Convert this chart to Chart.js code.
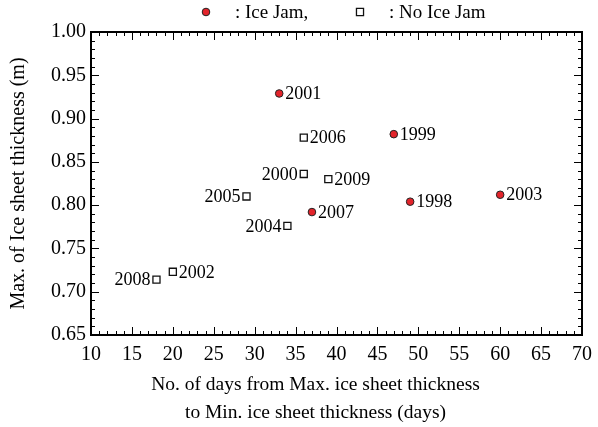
<!DOCTYPE html>
<html>
<head>
<meta charset="utf-8">
<script src="https://cdn.jsdelivr.net/npm/chart.js@4/dist/chart.umd.min.js"></script>
<style>
  html, body { margin: 0; padding: 0; background: #fff; }
  #wrap { width: 598px; height: 427px; }
</style>
</head>
<body>
<div id="wrap"><canvas id="chart"></canvas></div>
<script>
// years with an ice jam
const jamYears = ['2001', '1999', '1998', '2003', '2007'];
const jamDays = [33, 47, 49, 60, 37];
const jamThick = [0.929, 0.882, 0.804, 0.812, 0.792];

// years without an ice jam
const noJamYears = ['2006', '2000', '2009', '2005', '2004', '2008', '2002'];
const noJamDays = [36, 36, 39, 29, 34, 18, 20];
const noJamThick = [0.878, 0.836, 0.830, 0.810, 0.776, 0.714, 0.723];

const xTicks = [10, 15, 20, 25, 30, 35, 40, 45, 50, 55, 60, 65, 70];
const yTicks = [0.65, 0.70, 0.75, 0.80, 0.85, 0.90, 0.95, 1.00];

// labels drawn on the left side of their marker
const leftLabels = ['2000', '2005', '2004', '2008'];

const FONT = "'Liberation Serif', 'Times New Roman', serif";

function toPoints(xs, ys, names) {
    return xs.map((x, i) => ({ x: x, y: ys[i], year: names[i] }));
}

// frame, inward ticks on all four sides, year labels, legend, x title
const decor = {
    id: 'decor',
    afterDraw(chart) {
        const ctx = chart.ctx;
        const a = chart.chartArea;
        const xs = chart.scales.x;
        const ys = chart.scales.y;
        ctx.save();
        ctx.strokeStyle = '#000';
        ctx.lineWidth = 1;
        for (let v = xTicks[0]; v <= xTicks[xTicks.length - 1]; v++) {
            const len = v % 5 === 0 ? 8 : 4;
            const px = Math.round(xs.getPixelForValue(v)) + 0.5;
            ctx.beginPath();
            ctx.moveTo(px, a.bottom); ctx.lineTo(px, a.bottom - len);
            ctx.moveTo(px, a.top); ctx.lineTo(px, a.top + len);
            ctx.stroke();
        }
        for (let i = 0; i <= 35; i++) {
            const v = 0.65 + i * 0.01;
            const len = i % 5 === 0 ? 8 : 4;
            const py = Math.round(ys.getPixelForValue(v)) + 0.5;
            ctx.beginPath();
            ctx.moveTo(a.left, py); ctx.lineTo(a.left + len, py);
            ctx.moveTo(a.right, py); ctx.lineTo(a.right - len, py);
            ctx.stroke();
        }
        ctx.lineWidth = 2;
        ctx.strokeRect(a.left, a.top, a.right - a.left, a.bottom - a.top);

        // year labels next to the markers
        ctx.fillStyle = '#000';
        ctx.font = '18px ' + FONT;
        ctx.textBaseline = 'middle';
        chart.data.datasets.forEach((ds, di) => {
            const meta = chart.getDatasetMeta(di);
            meta.data.forEach((el, i) => {
                const yr = ds.data[i].year;
                if (leftLabels.includes(yr)) {
                    ctx.textAlign = 'right';
                    ctx.fillText(yr, el.x - 6, el.y + 1);
                } else {
                    ctx.textAlign = 'left';
                    ctx.fillText(yr, el.x + 6, el.y + 1);
                }
            });
        });

        // legend above the plot
        const ly = 12;
        const lx = a.left + 115;
        ctx.font = '19px ' + FONT;
        chart.data.datasets.forEach((ds, di) => {
            const mx = lx + di * 154;
            ctx.fillStyle = ds.pointBackgroundColor;
            ctx.strokeStyle = ds.pointBorderColor;
            ctx.lineWidth = ds.pointBorderWidth;
            Chart.helpers.drawPoint(ctx, {
                pointStyle: ds.pointStyle,
                radius: ds.pointRadius,
                borderWidth: ds.pointBorderWidth
            }, mx, ly);
            ctx.fillStyle = '#000';
            ctx.textAlign = 'left';
            ctx.textBaseline = 'middle';
            ctx.fillText(ds.label, mx + 29, ly + 1);
        });

        // x axis title, two lines
        ctx.font = '19.5px ' + FONT;
        ctx.textAlign = 'center';
        ctx.fillStyle = '#000';
        const cx = (a.left + a.right) / 2 - 21;
        ctx.fillText('No. of days from Max. ice sheet thickness', cx, a.bottom + 50);
        ctx.fillText('to Min. ice sheet thickness (days)', cx, a.bottom + 78);
        ctx.restore();
    }
};

new Chart(document.getElementById('chart'), {
    type: 'scatter',
    data: {
        datasets: [{
            label: ': Ice Jam,',
            data: toPoints(jamDays, jamThick, jamYears),
            pointStyle: 'circle',
            pointRadius: 3.8,
            pointBackgroundColor: '#e3242b',
            pointBorderColor: '#222',
            pointBorderWidth: 1
        }, {
            label: ': No Ice Jam',
            data: toPoints(noJamDays, noJamThick, noJamYears),
            pointStyle: 'rect',
            pointRadius: 5,
            pointBackgroundColor: '#fff',
            pointBorderColor: '#111',
            pointBorderWidth: 1.3
        }]
    },
    options: {
        responsive: true,
        maintainAspectRatio: false,
        animation: false,
        layout: { padding: { top: 32, right: 16, bottom: 52, left: 6.5 } },
        plugins: {
            tooltip: { enabled: false },
            legend: { display: false }
        },
        scales: {
            x: {
                type: 'linear',
                min: 10,
                max: 70,
                afterBuildTicks: (s) => { s.ticks = xTicks.map(v => ({ value: v })); },
                afterFit: (s) => { s.paddingRight = 10; },
                grid: { display: false, drawTicks: false },
                border: { display: false },
                ticks: {
                    padding: 8,
                    color: '#000',
                    font: { family: FONT, size: 20 },
                    maxRotation: 0
                }
            },
            y: {
                type: 'linear',
                min: 0.65,
                max: 1.0,
                afterBuildTicks: (s) => { s.ticks = yTicks.map(v => ({ value: v })); },
                grid: { display: false, drawTicks: false },
                border: { display: false },
                ticks: {
                    padding: 5,
                    color: '#000',
                    font: { family: FONT, size: 20 },
                    callback: (v) => Number(v).toFixed(2)
                },
                title: {
                    display: true,
                    text: 'Max. of Ice sheet thickness (m)',
                    color: '#000',
                    padding: { top: 0, bottom: 15.5 },
                    font: { family: FONT, size: 20 }
                }
            }
        }
    },
    plugins: [decor]
});
</script>
</body>
</html>
